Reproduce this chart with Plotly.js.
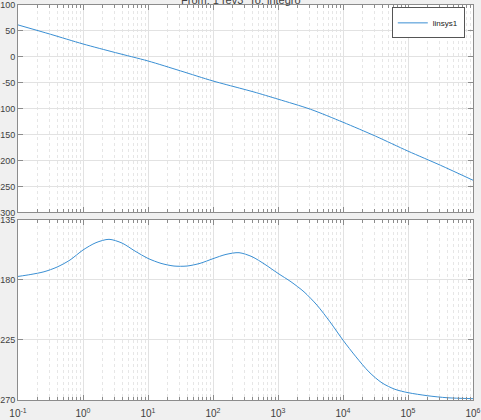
<!DOCTYPE html>
<html>
<head>
<meta charset="utf-8">
<script src="https://cdn.plot.ly/plotly-3.0.1.min.js"></script>
<style>html,body{margin:0;padding:0;background:#f0f0f0;}#chart{width:481px;height:420px;}</style>
</head>
<body>
<div id="chart"></div>
<script>
// Magnitude (dB) vs frequency (rad/s)
const magFreq = [0.1, 0.316, 1, 3.16, 10, 31.6, 100, 257, 427, 1000, 3162, 10000, 31623, 100000, 316228, 1000000];
const magDb   = [61.6, 43.6, 24.9, 8.2, -7.9, -27, -46.5, -60.3, -67.7, -81.5, -101, -126, -152.8, -181.7, -209, -237.8];
// Phase (deg) vs frequency (rad/s)
const phFreq = [0.1, 0.158, 0.251, 0.398, 0.631, 1, 1.585, 2.512, 3.981, 6.31, 10, 15.85, 25.12, 39.81, 63.1, 100, 158.5, 251.2, 398.1, 631, 1000, 1585, 2512, 3981, 6310, 10000, 15850, 25120, 39810, 63100, 100000, 199500, 398100, 1000000];
const phDeg  = [-177.5, -176, -174, -170.5, -165.2, -157.7, -152.2, -149.7, -152.5, -158.5, -164, -167.7, -169.7, -169.7, -167.7, -164.2, -161, -159.7, -162.7, -168.5, -175.2, -181.5, -189, -199, -211.5, -225.2, -237.7, -249, -257.2, -262, -264.5, -266.8, -268.3, -269];
const xTickVals = [0.1, 1, 10, 100, 1000, 10000, 100000, 1000000];
const xTickText = ['10<sup>-1</sup>','10<sup>0</sup>','10<sup>1</sup>','10<sup>2</sup>','10<sup>3</sup>','10<sup>4</sup>','10<sup>5</sup>','10<sup>6</sup>'];
const magTicks = [100, 50, 0, -50, -100, -150, -200, -250, -300];
const magTickText = ['100', '50', '0', '-50', '-100', '-150', '-200', '-250', '-300'];
const phTicks = [-135, -180, -225, -270];
const phTickText = ['-135', '-180', '-225', '-270'];
const seriesName = 'linsys1';
const titleText = 'From: 1 rev3  To: integro';
const xLabel = 'Frequency  (rad/s)';

// minor tick positions (2..9 within each decade) for the log axis
const minorVals = [];
for (let e = -1; e < 6; e++) for (let m = 2; m <= 9; m++) minorVals.push(m * Math.pow(10, e));

const lineColor = '#3a8fd3';
const axCol = '#8c8c8c';
const txtCol = '#404040';
const fontFam = 'Liberation Sans, Arial, sans-serif';

const traces = [
  {x: magFreq, y: magDb, type: 'scatter', mode: 'lines', name: seriesName,
   line: {color: lineColor, width: 1, shape: 'spline', smoothing: 0.8}, xaxis: 'x', yaxis: 'y'},
  {x: phFreq, y: phDeg, type: 'scatter', mode: 'lines', name: seriesName, showlegend: false,
   line: {color: lineColor, width: 1, shape: 'spline', smoothing: 0.8}, xaxis: 'x2', yaxis: 'y2'}
];

const xBase = {
  type: 'log', range: [-1, 6], tickvals: xTickVals, ticktext: xTickText,
  ticks: 'inside', ticklen: 5, tickcolor: axCol, showline: true, linecolor: axCol, linewidth: 1,
  mirror: 'allticks', showgrid: true, gridcolor: '#e2e2e2', gridwidth: 1, zeroline: false,
  automargin: false,
  minor: {tickvals: minorVals, ticks: 'inside', ticklen: 3, tickcolor: axCol, showgrid: true,
          gridcolor: '#e6e6e6', griddash: 'dot', gridwidth: 1},
  tickfont: {family: fontFam, size: 10, color: txtCol}
};
const yBase = {
  ticks: 'inside', ticklen: 5, tickcolor: axCol, showline: true, linecolor: axCol, linewidth: 1,
  mirror: 'allticks', showgrid: true, gridcolor: '#e2e2e2', zeroline: false, automargin: false,
  ticklabeloverflow: 'allow',
  tickfont: {family: fontFam, size: 9, color: txtCol}
};

const layout = {
  width: 481, height: 420,
  paper_bgcolor: '#f0f0f0', plot_bgcolor: '#ffffff',
  margin: {l: 18, r: 8, t: 5, b: 20},
  font: {family: fontFam, size: 10, color: txtCol},
  showlegend: true,
  legend: {x: 0.982, xanchor: 'right', y: 0.994, yanchor: 'top', bgcolor: '#ffffff',
           bordercolor: '#555555', borderwidth: 1, font: {family: fontFam, size: 8, color: '#222'},
           itemwidth: 30, tracegroupgap: 0},
  xaxis: Object.assign({}, xBase, {anchor: 'y', showticklabels: false}),
  xaxis2: Object.assign({}, xBase, {anchor: 'y2', matches: 'x', ticklabelstandoff: 4}),
  yaxis: Object.assign({}, yBase, {domain: [0.4747, 1], range: [-300, 100], tickvals: magTicks, ticktext: magTickText, anchor: 'x'}),
  yaxis2: Object.assign({}, yBase, {domain: [0, 0.4565], range: [-270, -135], tickvals: phTicks, ticktext: phTickText, anchor: 'x2'}),
  annotations: [
    {text: titleText, xref: 'paper', yref: 'paper', x: 0.49, y: 1, yanchor: 'bottom', yshift: -3,
     showarrow: false, font: {family: fontFam, size: 11, color: txtCol}},
    {text: xLabel, xref: 'paper', yref: 'paper', x: 0.5, y: 0, yanchor: 'top', yshift: -17,
     showarrow: false, font: {family: fontFam, size: 11, color: txtCol}}
  ]
};

Plotly.newPlot('chart', traces, layout, {displayModeBar: false, staticPlot: true});
</script>
</body>
</html>
